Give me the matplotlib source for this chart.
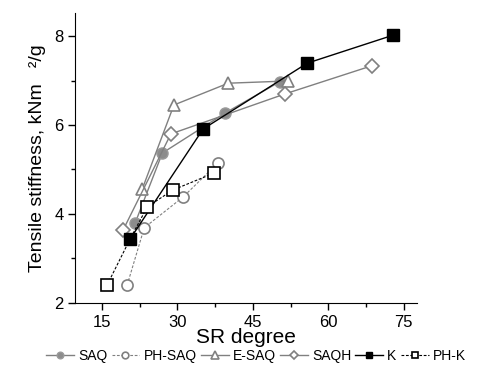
import numpy as np
import matplotlib.pyplot as plt
from matplotlib.ticker import MultipleLocator

plt.rcParams['font.family'] = ['Liberation Sans', 'DejaVu Sans']

# SR degree / tensile stiffness for each pulp
SAQ_X = [21.6, 27.0, 39.5, 50.3]
SAQ_Y = [3.80, 5.37, 6.27, 6.97]
PHSAQ_X = [20.0, 23.4, 31.1, 38.1]
PHSAQ_Y = [2.40, 3.69, 4.38, 5.15]
ESAQ_X = [23.0, 29.3, 40.1, 52.0]
ESAQ_Y = [4.56, 6.45, 6.94, 6.99]
SAQH_X = [19.2, 28.7, 51.4, 68.6]
SAQH_Y = [3.64, 5.80, 6.70, 7.33]
K_X = [20.6, 35.1, 55.8, 72.9]
K_Y = [3.44, 5.91, 7.39, 8.02]
PHK_X = [16.0, 20.6, 24.0, 29.1, 37.3]
PHK_Y = [2.40, 3.44, 4.16, 4.54, 4.92]
PHK_MARK = [0, 2, 3, 4]

GRAY = '#808080'

fig = plt.figure(figsize=(4.83, 3.69), dpi=100)
ax = fig.add_axes([0.156, 0.179, 0.707, 0.786])

ax.plot(SAQ_X, SAQ_Y, '-', color=GRAY, lw=1, marker='o', ms=8,
        mfc='#8c8c8c', mec='#9a9a9a', label='SAQ')
ax.plot(PHSAQ_X, PHSAQ_Y, '--', color=GRAY, lw=0.8, dashes=(2.5, 1.5), marker='o', ms=8,
        mfc='white', mec=GRAY, mew=1.2, label='PH-SAQ')
ax.plot(ESAQ_X, ESAQ_Y, '-', color=GRAY, lw=1, marker='^', ms=8.5,
        mfc='white', mec=GRAY, mew=1.2, label='E-SAQ')
ax.plot(SAQH_X, SAQH_Y, '-', color=GRAY, lw=1, marker='D', ms=7,
        mfc='white', mec=GRAY, mew=1.2, label='SAQH')
ax.plot(K_X, K_Y, '-', color='black', lw=1, marker='s', ms=8,
        mfc='black', mec='black', label='K')
ax.plot(PHK_X, PHK_Y, '--', color='black', lw=0.8, dashes=(2.5, 1.5), marker='s', ms=8,
        markevery=PHK_MARK, mfc='white', mec='black', mew=1.2, label='PH-K')

ax.set_xlim(9.7, 77.6)
ax.set_ylim(2, 8.52)
ax.xaxis.set_major_locator(MultipleLocator(15))
ax.xaxis.set_minor_locator(MultipleLocator(7.5))
ax.yaxis.set_major_locator(MultipleLocator(2))
ax.yaxis.set_minor_locator(MultipleLocator(1))
ax.tick_params(which='major', length=5, width=1, labelsize=12, direction='out')
ax.tick_params(which='minor', length=3, width=1, direction='out')
for s in ['top', 'right']:
    ax.spines[s].set_visible(False)

ax.set_xlabel('SR degree', fontsize=15, labelpad=-1)
ax.set_ylabel('Tensile stiffness, kNm   ²/g', fontsize=14, labelpad=6)

fig.legend(loc='center', bbox_to_anchor=(0.53, 0.035), ncol=6, frameon=False,
           fontsize=10, handlelength=2.0, handletextpad=0.3, columnspacing=0.3,
           markerscale=0.6)

fig.savefig('out.png', dpi=100)
